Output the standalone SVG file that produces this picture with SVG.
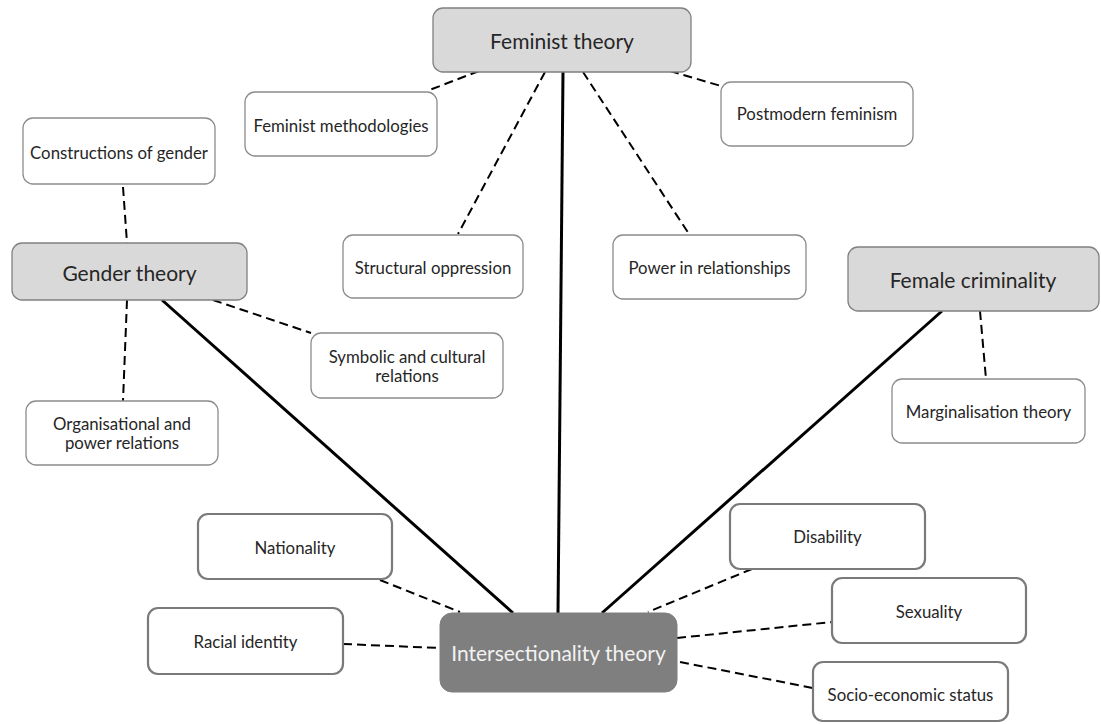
<svg xmlns="http://www.w3.org/2000/svg" width="1101" height="724" viewBox="0 0 1101 724">
  <style>
    .bg { fill: #ffffff; }
    .box { fill: #ffffff; stroke: #8c8c8c; stroke-width: 1.3; }
    .boxb { fill: #ffffff; stroke: #7a7a7a; stroke-width: 2.2; }
    .main { fill: #d9d9d9; stroke: #808080; stroke-width: 1.3; }
    .core { fill: #7f7f7f; stroke: #7f7f7f; stroke-width: 1; }
    .t { font-family: Lato, "Liberation Sans", sans-serif; font-size: 16.8px; fill: #262626; text-anchor: middle; dominant-baseline: central; }
    .tb { font-family: Lato, "Liberation Sans", sans-serif; font-size: 21px; fill: #262626; text-anchor: middle; dominant-baseline: central; }
    .tw { font-family: Lato, "Liberation Sans", sans-serif; font-size: 21px; fill: #f2f2f2; text-anchor: middle; dominant-baseline: central; }
    .solid { stroke: #000000; stroke-width: 3; fill: none; }
    .dash { stroke: #000000; stroke-width: 2; stroke-dasharray: 9 5; fill: none; }
  </style>
  <rect class="bg" x="0" y="0" width="1101" height="724"/>

  <!-- connectors -->
  <g id="connectors">
    <line class="solid" x1="563" y1="72" x2="558" y2="613"/>
    <line class="solid" x1="162" y1="300" x2="513" y2="613"/>
    <line class="solid" x1="942" y1="311" x2="602" y2="613"/>
    <line class="dash" x1="479" y1="71" x2="427" y2="91"/>
    <line class="dash" x1="545" y1="72" x2="458" y2="234"/>
    <line class="dash" x1="583" y1="72" x2="689" y2="234"/>
    <line class="dash" x1="670" y1="71" x2="721" y2="86"/>
    <line class="dash" x1="123" y1="187" x2="127" y2="243"/>
    <line class="dash" x1="127" y1="300" x2="123" y2="401"/>
    <line class="dash" x1="213" y1="300" x2="311" y2="333"/>
    <line class="dash" x1="980" y1="311" x2="986" y2="379"/>
    <line class="dash" x1="380" y1="580" x2="460" y2="612"/>
    <line class="dash" x1="343" y1="644" x2="440" y2="648"/>
    <line class="dash" x1="752" y1="569" x2="648" y2="612"/>
    <line class="dash" x1="677" y1="638" x2="832" y2="622"/>
    <line class="dash" x1="680" y1="662" x2="813" y2="688"/>
  </g>

  <g id="feminist-theory">
    <rect class="main" x="433" y="8" width="258" height="64" rx="10"/>
    <text class="tb" x="562" y="40">Feminist theory</text>
  </g>
  <g id="feminist-methodologies">
    <rect class="box" x="245" y="92" width="192" height="64" rx="10"/>
    <text class="t" x="341" y="125">Feminist methodologies</text>
  </g>
  <g id="postmodern-feminism">
    <rect class="box" x="721" y="82" width="192" height="64" rx="10"/>
    <text class="t" x="817" y="113">Postmodern feminism</text>
  </g>
  <g id="constructions-of-gender">
    <rect class="box" x="23" y="118" width="192" height="66" rx="10"/>
    <text class="t" x="119" y="152">Constructions of gender</text>
  </g>
  <g id="gender-theory">
    <rect class="main" x="12" y="243" width="235" height="57" rx="10"/>
    <text class="tb" x="129.5" y="272">Gender theory</text>
  </g>
  <g id="structural-oppression">
    <rect class="box" x="343" y="235" width="180" height="63" rx="10"/>
    <text class="t" x="433" y="267">Structural oppression</text>
  </g>
  <g id="power-in-relationships">
    <rect class="box" x="613" y="235" width="193" height="64" rx="10"/>
    <text class="t" x="709.5" y="267">Power in relationships</text>
  </g>
  <g id="female-criminality">
    <rect class="main" x="848" y="247" width="251" height="64" rx="10"/>
    <text class="tb" x="973" y="279">Female criminality</text>
  </g>
  <g id="symbolic-cultural-relations">
    <rect class="box" x="311" y="333" width="192" height="65" rx="10"/>
    <text class="t" x="407" y="356">Symbolic and cultural</text>
    <text class="t" x="407" y="375">relations</text>
  </g>
  <g id="organisational-power-relations">
    <rect class="box" x="26" y="401" width="192" height="64" rx="10"/>
    <text class="t" x="122" y="423">Organisational and</text>
    <text class="t" x="122" y="442">power relations</text>
  </g>
  <g id="marginalisation-theory">
    <rect class="box" x="892" y="379" width="193" height="64" rx="10"/>
    <text class="t" x="988.5" y="411">Marginalisation theory</text>
  </g>
  <g id="nationality">
    <rect class="boxb" x="198" y="514" width="194" height="65" rx="10"/>
    <text class="t" x="295" y="547">Nationality</text>
  </g>
  <g id="racial-identity">
    <rect class="boxb" x="148" y="608" width="195" height="66" rx="10"/>
    <text class="t" x="245.5" y="641">Racial identity</text>
  </g>
  <g id="intersectionality-theory">
    <rect class="core" x="440" y="613" width="237" height="79" rx="12"/>
    <text class="tw" x="558.5" y="652">Intersectionality theory</text>
  </g>
  <g id="disability">
    <rect class="boxb" x="730" y="504" width="195" height="65" rx="10"/>
    <text class="t" x="827.5" y="536">Disability</text>
  </g>
  <g id="sexuality">
    <rect class="boxb" x="832" y="578" width="194" height="65" rx="10"/>
    <text class="t" x="929" y="611">Sexuality</text>
  </g>
  <g id="socio-economic-status">
    <rect class="boxb" x="813" y="662" width="195" height="59" rx="10"/>
    <text class="t" x="910.5" y="694">Socio-economic status</text>
  </g>
</svg>
